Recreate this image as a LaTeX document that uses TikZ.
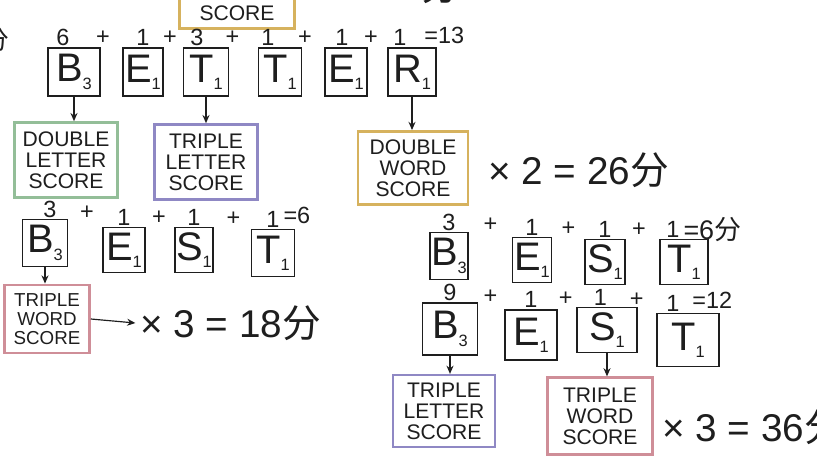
\documentclass[tikz,border=0pt]{standalone}
\usepackage{fontspec}
\setmainfont{Liberation Sans}
\newfontfamily\cjk{Noto Sans CJK SC}
\usetikzlibrary{arrows.meta, positioning, calc}
\definecolor{ink}{HTML}{1E1E1E}
\definecolor{boxgreen}{HTML}{93BE98}
\definecolor{boxpurple}{HTML}{8F88C4}
\definecolor{boxgold}{HTML}{D6B25E}
\definecolor{boxpink}{HTML}{CF8E98}
\newcommand{\tileletter}[2]{#1\raisebox{-0.35ex}{\fontsize{14}{14}\selectfont #2}}
\tikzset{
    tile/.style={
        draw=ink, line width=1.3pt, inner sep=0pt,
        minimum width=1.35cm, minimum height=1.44cm,
        font=\fontsize{34}{34}\selectfont, text=ink,
    },
    pts/.style={
        font=\fontsize{20}{20}\selectfont, text=ink, inner sep=1pt,
    },
    bonus/.style={
        line width=2.2pt, fill=white, align=center, inner sep=2pt,
        minimum width=3.1cm, minimum height=2.25cm,
        font=\fontsize{18}{18}\selectfont, text=ink,
    },
    total/.style={
        font=\fontsize{33}{33}\selectfont, text=ink, inner sep=0pt,
    },
    arr/.style={
        -{Stealth[length=7pt, width=6pt]}, line width=1pt, ink,
    },
}

\begin{document}
\begin{tikzpicture}[x=0.03cm, y=-0.03cm]
\useasboundingbox[fill=white] (0,0) rectangle (817,457);

% ═══ CUT-OFF LINE ABOVE ═══
\node[bonus, draw=boxgold, minimum width=3.45cm, minimum height=2.2cm] (dwsTop) at (237,-8) {DOUBLE\\WORD\\SCORE};
\node[total, anchor=west] (resTop) at (322,-14) {× 2 = {\cjk 分}};
\node[total, font=\fontsize{22}{22}\selectfont] (leftFrag) at (-4,40) {\cjk 分};

% ═══ BETTER ═══
\node[tile, minimum width=1.55cm] (aB) at (74,72) {\tileletter{B}{3}};
\node[tile, minimum width=1.2cm] (aE) at (143,72) {\tileletter{E}{1}};
\node[tile] (aT) at (206,72) {\tileletter{T}{1}};
\node[tile, minimum width=1.3cm] (aT2) at (280,72) {\tileletter{T}{1}};
\node[tile, minimum width=1.25cm] (aE2) at (346,72) {\tileletter{E}{1}};
\node[tile, minimum width=1.45cm] (aR) at (412,72) {\tileletter{R}{1}};

\node[pts, above=0pt of aB, xshift=-0.33cm] (aBs) {6};
\node[pts, above=0pt of aE] (aEs) {1};
\node[pts, above=0pt of aT, xshift=-0.27cm] (aTs) {3};
\node[pts, above=0pt of aT2, xshift=-0.36cm] (aT2s) {1};
\node[pts, above=0pt of aE2, xshift=-0.12cm] (aE2s) {1};
\node[pts, above=0pt of aR, xshift=-0.36cm] (aRs) {1};
\node[pts] (aP1) at ($(aBs)!0.5!(aEs)$) {+};
\node[pts] (aP2) at ($(aEs)!0.5!(aTs)$) {+};
\node[pts] (aP3) at ($(aTs)!0.5!(aT2s)$) {+};
\node[pts] (aP4) at ($(aT2s)!0.5!(aE2s)$) {+};
\node[pts] (aP5) at ($(aE2s)!0.5!(aRs)$) {+};
\node[pts, right=0.45cm of aRs, yshift=2pt] (aSum) {=13};

\node[bonus, draw=boxgreen] (dlsA) at (66,160) {DOUBLE\\LETTER\\SCORE};
\node[bonus, draw=boxpurple] (tlsA) at (206,162) {TRIPLE\\LETTER\\SCORE};
\node[bonus, draw=boxgold, minimum width=3.3cm, minimum height=2.2cm] (dwsA) at (413,168) {DOUBLE\\WORD\\SCORE};
\node[total, anchor=west] (dwsRes) at (488,170) {× 2 = 26{\cjk 分}};

\draw[arr] (aB.south) -- (aB.south |- dlsA.north);
\draw[arr] (aT.south) -- (aT.south |- tlsA.north);
\draw[arr] (aR.south) -- (aR.south |- dwsA.north);

% ═══ BEST (left) ═══
\node[tile, minimum width=1.35cm, minimum height=1.4cm] (bB) at (45,243) {\tileletter{B}{3}};
\node[tile, minimum width=1.25cm, minimum height=1.35cm] (bE) at (124,250) {\tileletter{E}{1}};
\node[tile, minimum width=1.15cm, minimum height=1.35cm] (bS) at (194,250) {\tileletter{S}{1}};
\node[tile, minimum width=1.3cm, minimum height=1.4cm] (bT) at (273,253) {\tileletter{T}{1}};

\node[pts, above=0pt of bB, xshift=0.15cm] (bBs) {3};
\node[pts, above=0pt of bE] (bEs) {1};
\node[pts, above=0pt of bS] (bSs) {1};
\node[pts, above=0pt of bT] (bTs) {1};
\node[pts] (bP1) at ($(bBs)!0.5!(bEs)$) {+};
\node[pts] (bP2) at ($(bEs)!0.5!(bSs)$) {+};
\node[pts] (bP3) at ($(bSs)!0.5!(bTs)$) {+};
\node[pts, right=1pt of bTs, yshift=3pt] (bSum) {=6};

\node[bonus, draw=boxpink, minimum width=2.55cm, minimum height=2.05cm,
      font=\fontsize{16}{16}\selectfont] (twsA) at (47,319) {TRIPLE\\WORD\\SCORE};
\node[total, anchor=west] (twsResA) at (140,323) {× 3 = 18{\cjk 分}};

\draw[arr] (bB.south) -- (bB.south |- twsA.north);
\draw[arr] (twsA.east) -- ([xshift=-4pt]twsResA.west);

% ═══ BEST (right) ═══
\node[tile, minimum width=1.15cm, minimum height=1.4cm] (cB) at (449,256) {\tileletter{B}{3}};
\node[tile, minimum width=1.17cm, minimum height=1.35cm] (cE) at (532,260) {\tileletter{E}{1}};
\node[tile, minimum width=1.2cm, minimum height=1.35cm] (cS) at (605,262) {\tileletter{S}{1}};
\node[tile, minimum width=1.45cm, minimum height=1.35cm] (cT) at (684,262) {\tileletter{T}{1}};

\node[pts, above=0pt of cB] (cBs) {3};
\node[pts, above=0pt of cE] (cEs) {1};
\node[pts, above=0pt of cS] (cSs) {1};
\node[pts, above=0pt of cT, xshift=-0.33cm] (cTs) {1};
\node[pts] (cP1) at ($(cBs)!0.5!(cEs)$) {+};
\node[pts] (cP2) at ($(cEs)!0.5!(cSs)$) {+};
\node[pts] (cP3) at ($(cSs)!0.5!(cTs)$) {+};
\node[pts, right=1pt of cTs, font=\fontsize{23}{23}\selectfont] (cSum) {=6{\cjk 分}};

% ═══ BEST (right, with bonuses) ═══
\node[tile, minimum width=1.65cm, minimum height=1.55cm] (dB) at (450,329) {\tileletter{B}{3}};
\node[tile, minimum width=1.55cm, minimum height=1.5cm] (dE) at (531,335) {\tileletter{E}{1}};
\node[tile, minimum width=1.8cm, minimum height=1.35cm] (dS) at (607,330) {\tileletter{S}{1}};
\node[tile, minimum width=1.85cm, minimum height=1.6cm] (dT) at (688,340) {\tileletter{T}{1}};

\node[pts, above=0pt of dB] (dBs) {9};
\node[pts, above=0pt of dE] (dEs) {1};
\node[pts, above=0pt of dS, xshift=-0.2cm] (dSs) {1};
\node[pts, above=0pt of dT, xshift=-0.45cm] (dTs) {1};
\node[pts] (dP1) at ($(dBs)!0.5!(dEs)$) {+};
\node[pts] (dP2) at ($(dEs)!0.5!(dSs)$) {+};
\node[pts] (dP3) at ($(dSs)!0.5!(dTs)$) {+};
\node[pts, right=0.3cm of dTs, yshift=2pt] (dSum) {=12};

\node[bonus, draw=boxpurple, minimum width=3.05cm, minimum height=2.15cm] (tlsB) at (444,411) {TRIPLE\\LETTER\\SCORE};
\node[bonus, draw=boxpink, minimum width=3.15cm, minimum height=2.3cm] (twsB) at (600,416) {TRIPLE\\WORD\\SCORE};
\node[total, anchor=west] (twsResB) at (662,427) {× 3 = 36{\cjk 分}};

\draw[arr] (dB.south) -- (dB.south |- tlsB.north);
\draw[arr] (dS.south) -- (dS.south |- twsB.north);

\end{tikzpicture}
\end{document}
